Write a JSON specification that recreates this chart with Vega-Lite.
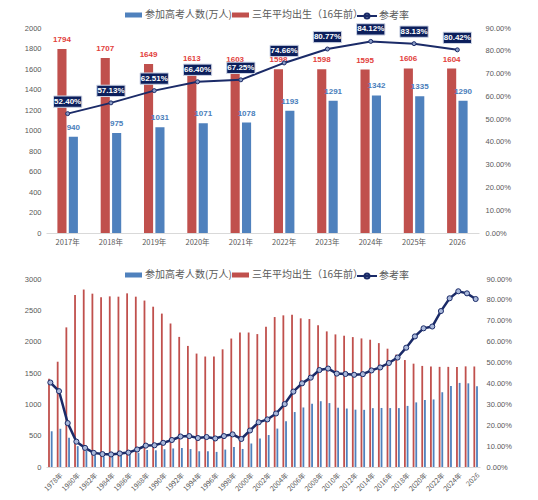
{
  "$schema": "https://vega.github.io/schema/vega-lite/v6.json",
  "background": "white",
  "padding": {"left": 24, "top": 10, "right": 5, "bottom": 5},
  "config": {
    "view": {"stroke": null},
    "font": "Noto Sans CJK SC",
    "axis": {"labelColor": "#595959", "labelFontSize": 7.5, "labelFont": "Liberation Sans", "grid": false, "title": null, "labelOverlap": false},
    "legend": {"labelColor": "#595959", "labelFontSize": 10, "labelFont": "Noto Sans CJK SC"}
  },
  "datasets": {
    "gaokao": [
      {"year": 1977, "exam": 570, "births": 1409, "rate": 0.4045},
      {"year": 1978, "exam": 610, "births": 1680, "rate": 0.3631},
      {"year": 1979, "exam": 468, "births": 2228, "rate": 0.2101},
      {"year": 1980, "exam": 333, "births": 2744, "rate": 0.1214},
      {"year": 1981, "exam": 259, "births": 2832, "rate": 0.0915},
      {"year": 1982, "exam": 187, "births": 2766, "rate": 0.0676},
      {"year": 1983, "exam": 167, "births": 2707, "rate": 0.0617},
      {"year": 1984, "exam": 164, "births": 2723, "rate": 0.0602},
      {"year": 1985, "exam": 176, "births": 2718, "rate": 0.0648},
      {"year": 1986, "exam": 191, "births": 2771, "rate": 0.0689},
      {"year": 1987, "exam": 228, "births": 2718, "rate": 0.0839},
      {"year": 1988, "exam": 272, "births": 2656, "rate": 0.1024},
      {"year": 1989, "exam": 266, "births": 2558, "rate": 0.1040},
      {"year": 1990, "exam": 283, "births": 2448, "rate": 0.1156},
      {"year": 1991, "exam": 296, "births": 2290, "rate": 0.1293},
      {"year": 1992, "exam": 303, "births": 2076, "rate": 0.1460},
      {"year": 1993, "exam": 286, "births": 1932, "rate": 0.1480},
      {"year": 1994, "exam": 251, "births": 1810, "rate": 0.1387},
      {"year": 1995, "exam": 253, "births": 1763, "rate": 0.1435},
      {"year": 1996, "exam": 241, "births": 1763, "rate": 0.1367},
      {"year": 1997, "exam": 278, "births": 1878, "rate": 0.1480},
      {"year": 1998, "exam": 320, "births": 2050, "rate": 0.1561},
      {"year": 1999, "exam": 288, "births": 2146, "rate": 0.1342},
      {"year": 2000, "exam": 375, "births": 2146, "rate": 0.1747},
      {"year": 2001, "exam": 454, "births": 2121, "rate": 0.2141},
      {"year": 2002, "exam": 510, "births": 2239, "rate": 0.2278},
      {"year": 2003, "exam": 613, "births": 2393, "rate": 0.2562},
      {"year": 2004, "exam": 729, "births": 2420, "rate": 0.3012},
      {"year": 2005, "exam": 877, "births": 2430, "rate": 0.3609},
      {"year": 2006, "exam": 950, "births": 2372, "rate": 0.4005},
      {"year": 2007, "exam": 1010, "births": 2361, "rate": 0.4278},
      {"year": 2008, "exam": 1050, "births": 2262, "rate": 0.4642},
      {"year": 2009, "exam": 1020, "births": 2164, "rate": 0.4713},
      {"year": 2010, "exam": 946, "births": 2116, "rate": 0.4471},
      {"year": 2011, "exam": 933, "births": 2095, "rate": 0.4453},
      {"year": 2012, "exam": 915, "births": 2073, "rate": 0.4414},
      {"year": 2013, "exam": 912, "births": 2052, "rate": 0.4444},
      {"year": 2014, "exam": 939, "births": 2031, "rate": 0.4623},
      {"year": 2015, "exam": 942, "births": 1977, "rate": 0.4765},
      {"year": 2016, "exam": 940, "births": 1888, "rate": 0.4979},
      {"year": 2017, "exam": 940, "births": 1794, "rate": 0.5240},
      {"year": 2018, "exam": 975, "births": 1707, "rate": 0.5713},
      {"year": 2019, "exam": 1031, "births": 1649, "rate": 0.6251},
      {"year": 2020, "exam": 1071, "births": 1613, "rate": 0.6640},
      {"year": 2021, "exam": 1078, "births": 1603, "rate": 0.6725},
      {"year": 2022, "exam": 1193, "births": 1598, "rate": 0.7466},
      {"year": 2023, "exam": 1291, "births": 1598, "rate": 0.8077},
      {"year": 2024, "exam": 1342, "births": 1595, "rate": 0.8412},
      {"year": 2025, "exam": 1335, "births": 1606, "rate": 0.8313},
      {"year": 2026, "exam": 1290, "births": 1604, "rate": 0.8042}
    ]
  },
  "resolve": {
    "scale": {"color": "independent", "stroke": "independent", "fill": "independent", "x": "independent", "y": "independent", "xOffset": "independent"},
    "legend": {"color": "independent", "stroke": "independent"}
  },
  "spacing": 24,
  "vconcat": [
    {
      "width": 433,
      "height": 205,
      "data": {"name": "gaokao"},
      "transform": [{"filter": "datum.year >= 2017"}],
      "resolve": {"scale": {"y": "independent"}},
      "layer": [
        {
          "transform": [{"fold": ["births", "exam"], "as": ["series", "value"]}],
          "encoding": {
            "x": {
              "field": "year", "type": "ordinal",
              "scale": {"paddingInner": 0, "paddingOuter": 0},
              "axis": {"labelExpr": "datum.value == 2026 ? '2026' : datum.value + '年'", "labelAngle": 0, "labelFont": "Noto Sans CJK SC", "labelFontSize": 7.5, "ticks": false, "domainColor": "#d9d9d9", "labelPadding": 5}
            },
            "xOffset": {"field": "series", "type": "nominal", "scale": {"domain": ["births", "exam"], "paddingInner": 0.2, "paddingOuter": 1.0}},
            "y": {
              "field": "value", "type": "quantitative",
              "scale": {"domain": [0, 2000]},
              "axis": {"values": [0, 200, 400, 600, 800, 1000, 1200, 1400, 1600, 1800, 2000], "format": "d", "labelOverlap": false, "domain": false, "ticks": false, "labelPadding": 5}
            }
          },
          "layer": [
            {
              "mark": {"type": "bar"},
              "encoding": {
                "color": {
                  "field": "series", "type": "nominal",
                  "scale": {"domain": ["exam", "births"], "range": ["#4f81bd", "#c0504d"]},
                  "legend": {
                    "orient": "none", "legendX": 79, "legendY": -18, "direction": "horizontal", "title": null,
                    "symbolSize": 100, "labelOffset": 10, "columnPadding": -2,
                    "labelExpr": "datum.value == 'exam' ? '参加高考人数(万人)' : '三年平均出生（16年前）'",
                    "encode": {
                      "symbols": {"update": {
                        "shape": {"value": "M-1,-0.5H2.4V0.5H-1Z"},
                        "fill": {"signal": "datum.value == 'exam' ? '#4f81bd' : '#c0504d'"},
                        "strokeWidth": {"value": 0},
                        "opacity": {"value": 1}
                      }}
                    }
                  }
                }
              }
            },
            {
              "mark": {"type": "text", "dy": -9, "fontWeight": "bold", "fontSize": 8, "font": "Liberation Sans"},
              "encoding": {
                "text": {"field": "value", "type": "quantitative"},
                "fill": {"field": "series", "type": "nominal", "scale": {"domain": ["births", "exam"], "range": ["#e2403b", "#4a7ebb"]}, "legend": null}
              }
            }
          ]
        },
        {
          "encoding": {
            "x": {"field": "year", "type": "ordinal"},
            "y": {
              "field": "rate", "type": "quantitative",
              "scale": {"domain": [0, 0.9]},
              "axis": {"orient": "right", "format": ".2%", "values": [0, 0.1, 0.2, 0.3, 0.4, 0.5, 0.6, 0.7, 0.8, 0.9], "labelOverlap": false, "domain": false, "ticks": false, "labelPadding": 6}
            }
          },
          "layer": [
            {
              "mark": {"type": "line", "strokeWidth": 2},
              "encoding": {
                "stroke": {
                  "datum": "rate",
                  "scale": {"domain": ["rate"], "range": ["#1b2b68"]},
                  "legend": {
                    "orient": "none", "legendX": 315, "legendY": -18, "title": null,
                    "symbolSize": 100, "labelOffset": 6,
                    "symbolType": "M-2,0H2M0.5,0A0.5,0.5,0,1,1,-0.5,0A0.5,0.5,0,1,1,0.5,0Z",
                    "labelExpr": "'参考率'",
                    "encode": {
                      "symbols": {"update": {
                        "fill": {"value": "#9fb1d6"},
                        "stroke": {"value": "#1b2b68"},
                        "strokeWidth": {"value": 2},
                        "opacity": {"value": 1}
                      }}
                    }
                  }
                }
              }
            },
            {
              "mark": {"type": "point", "filled": true, "size": 16, "fill": "#8a9cc6", "stroke": "#1b2b68", "strokeWidth": 1, "opacity": 1}
            },
            {
              "mark": {"type": "point", "shape": "M-1,-0.4H1V0.4H-1Z", "size": 800, "filled": true, "fill": "#0c1f5c", "stroke": "#cfd6e6", "strokeWidth": 1, "opacity": 1, "yOffset": -12}
            },
            {
              "mark": {"type": "text", "color": "white", "fontSize": 8, "fontWeight": "bold", "font": "Liberation Sans", "yOffset": -12, "baseline": "middle"},
              "encoding": {
                "text": {"field": "rate", "type": "quantitative", "format": ".2%"}
              }
            }
          ]
        }
      ]
    },
    {
      "width": 434,
      "height": 188,
      "data": {"name": "gaokao"},
      "resolve": {"scale": {"y": "independent"}},
      "layer": [
        {
          "transform": [{"fold": ["births", "exam"], "as": ["series", "value"]}],
          "mark": {"type": "bar"},
          "encoding": {
            "x": {
              "field": "year", "type": "ordinal",
              "scale": {"paddingInner": 0, "paddingOuter": 0},
              "axis": {
                "values": [1978, 1980, 1982, 1984, 1986, 1988, 1990, 1992, 1994, 1996, 1998, 2000, 2002, 2004, 2006, 2008, 2010, 2012, 2014, 2016, 2018, 2020, 2022, 2024, 2026],
                "labelExpr": "datum.value == 2026 ? '2026' : datum.value + '年'", "labelAngle": -45, "labelFont": "Noto Sans CJK SC", "labelFontSize": 7, "ticks": false, "domainColor": "#d9d9d9", "labelPadding": 4, "labelOverlap": false
              }
            },
            "xOffset": {"field": "series", "type": "nominal", "scale": {"domain": ["births", "exam"], "paddingInner": 0.33, "paddingOuter": 0.78}},
            "y": {
              "field": "value", "type": "quantitative",
              "scale": {"domain": [0, 3000]},
              "axis": {"values": [0, 500, 1000, 1500, 2000, 2500, 3000], "format": "d", "labelOverlap": false, "domain": false, "ticks": false, "labelPadding": 5}
            },
            "color": {
              "field": "series", "type": "nominal",
              "scale": {"domain": ["exam", "births"], "range": ["#4f81bd", "#c0504d"]},
              "legend": {
                "orient": "none", "legendX": 79, "legendY": -9, "direction": "horizontal", "title": null,
                "symbolSize": 100, "labelOffset": 10, "columnPadding": -2,
                "labelExpr": "datum.value == 'exam' ? '参加高考人数(万人)' : '三年平均出生（16年前）'",
                "encode": {
                  "symbols": {"update": {
                    "shape": {"value": "M-1,-0.5H2.4V0.5H-1Z"},
                    "fill": {"signal": "datum.value == 'exam' ? '#4f81bd' : '#c0504d'"},
                    "strokeWidth": {"value": 0},
                    "opacity": {"value": 1}
                  }}
                }
              }
            }
          }
        },
        {
          "encoding": {
            "x": {"field": "year", "type": "ordinal"},
            "y": {
              "field": "rate", "type": "quantitative",
              "scale": {"domain": [0, 0.9]},
              "axis": {"orient": "right", "format": ".2%", "values": [0, 0.1, 0.2, 0.3, 0.4, 0.5, 0.6, 0.7, 0.8, 0.9], "labelOverlap": false, "domain": false, "ticks": false, "labelPadding": 6}
            }
          },
          "layer": [
            {
              "mark": {"type": "line", "strokeWidth": 2.5},
              "encoding": {
                "stroke": {
                  "datum": "rate",
                  "scale": {"domain": ["rate"], "range": ["#1b2b68"]},
                  "legend": {
                    "orient": "none", "legendX": 315, "legendY": -9, "title": null,
                    "symbolSize": 100, "labelOffset": 6,
                    "symbolType": "M-2,0H2M0.5,0A0.5,0.5,0,1,1,-0.5,0A0.5,0.5,0,1,1,0.5,0Z",
                    "labelExpr": "'参考率'",
                    "encode": {
                      "symbols": {"update": {
                        "fill": {"value": "#9fb1d6"},
                        "stroke": {"value": "#1b2b68"},
                        "strokeWidth": {"value": 2},
                        "opacity": {"value": 1}
                      }}
                    }
                  }
                }
              }
            },
            {
              "mark": {"type": "point", "filled": true, "size": 26, "fill": "#a9b8da", "stroke": "#1b2b68", "strokeWidth": 1, "opacity": 1}
            }
          ]
        }
      ]
    }
  ]
}
